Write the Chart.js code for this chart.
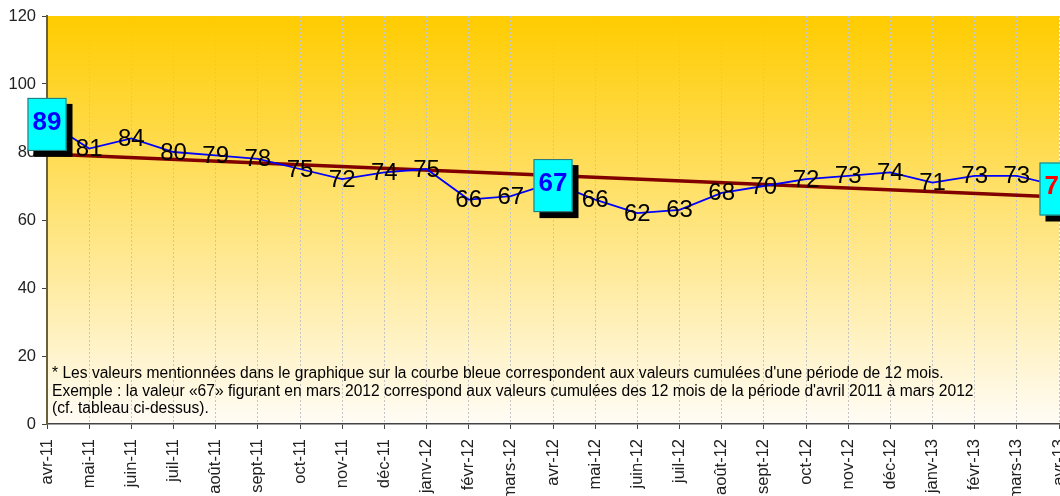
<!DOCTYPE html>
<html>
<head>
<meta charset="utf-8">
<script src="https://cdn.jsdelivr.net/npm/chart.js@4/dist/chart.umd.min.js"></script>
<style>
body{margin:0;background:#fff;}
#wrap{width:1060px;height:496px;overflow:hidden;position:relative;}
</style>
</head>
<body>
<div id="wrap"><canvas id="myChart" width="1100" height="496"></canvas></div>
<script>
var months = ["avr-11","mai-11","juin-11","juil-11","août-11","sept-11","oct-11","nov-11","déc-11","janv-12","févr-12","mars-12",
              "avr-12","mai-12","juin-12","juil-12","août-12","sept-12","oct-12","nov-12","déc-12","janv-13","févr-13","mars-13","avr-13"];
var values = [89,81,84,80,79,78,75,72,74,75,66,67,71,66,62,63,68,70,72,73,74,71,73,73,70];
// points shown in a box instead of a plain label
var boxIndex = [0,12,24];
var boxText = ["89","67","70"];
var boxColor = ["#0000ff","#0000ff","#ff0000"];
// trend line ends
var trendStart = 79.4;
var trendEnd = 66.8;
var yTicks = [0,20,40,60,80,100,120];
var note = ["* Les valeurs mentionnées dans le graphique sur la courbe bleue correspondent aux valeurs cumulées d'une période de 12 mois.",
            "Exemple : la valeur «67» figurant en mars 2012 correspond aux valeurs cumulées des 12 mois de la période d'avril 2011 à mars 2012",
            "(cf. tableau ci-dessus)."];

var bgPlugin = {
  id:'bg',
  beforeDraw:function(chart){
    var a = chart.chartArea, ctx = chart.ctx;
    var g = ctx.createLinearGradient(0,a.top,0,a.bottom);
    g.addColorStop(0,'#ffcc00');
    g.addColorStop(1,'#fffcf6');
    ctx.save();
    ctx.fillStyle = g;
    ctx.fillRect(a.left,a.top,a.right-a.left,a.bottom-a.top);
    ctx.restore();
  }
};

var labelPlugin = {
  id:'labels',
  afterDatasetsDraw:function(chart){
    var ctx = chart.ctx, a = chart.chartArea;
    var meta = chart.getDatasetMeta(0);
    ctx.save();
    // footnote
    ctx.font = '15.6px "Liberation Sans", Arial, sans-serif';
    ctx.fillStyle = '#000';
    ctx.textAlign = 'left';
    ctx.textBaseline = 'alphabetic';
    for(var n=0;n<note.length;n++){
      ctx.fillText(note[n], a.left+5, 378+n*17.5);
    }
    // values
    ctx.font = '24px "Liberation Sans", Arial, sans-serif';
    ctx.textAlign = 'center';
    ctx.textBaseline = 'middle';
    for(var i=0;i<values.length;i++){
      if(boxIndex.indexOf(i)>=0) continue;
      var p = meta.data[i];
      ctx.fillText(String(values[i]), p.x, p.y+1);
    }
    // boxes
    for(var k=0;k<boxIndex.length;k++){
      var q = meta.data[boxIndex[k]];
      var w = 39, h = 53;
      var bx = q.x-w/2, by = q.y-h/2+3;
      ctx.fillStyle = '#000';
      ctx.fillRect(bx+6,by+6,w,h);
      ctx.fillStyle = '#00ffff';
      ctx.fillRect(bx,by,w,h);
      ctx.strokeStyle = '#2f6f6f';
      ctx.lineWidth = 1;
      ctx.strokeRect(bx+0.5,by+0.5,w-1,h-1);
      ctx.fillStyle = boxColor[k];
      ctx.font = 'bold 26px "Liberation Sans", Arial, sans-serif';
      ctx.fillText(boxText[k], q.x, q.y+1);
    }
    ctx.restore();
  }
};

var ctx = document.getElementById("myChart");
var myChart = new Chart(ctx, {
  type:'line',
  data:{
    labels:months,
    datasets:[{
      label:'valeurs',
      data:values,
      borderColor:'#0000ff',
      borderWidth:1.8,
      pointRadius:0,
      tension:0,
      order:1
    },{
      label:'tendance',
      data:[{x:months[0],y:trendStart},{x:months[months.length-1],y:trendEnd}],
      borderColor:'#800000',
      borderWidth:3.5,
      pointRadius:0,
      order:2
    }]
  },
  options:{
    responsive:false,
    animation:false,
    devicePixelRatio:1,
    layout:{padding:{left:0,right:41,top:16,bottom:0}},
    plugins:{legend:{display:false},tooltip:{enabled:false}},
    scales:{
      x:{
        offset:false,
        grid:{color:'#c4c4c4',lineWidth:1,drawTicks:true,tickLength:5,tickColor:'#444',tickWidth:1},
        border:{display:true,color:'#444',width:1.5,dash:[2,2]},
        ticks:{autoSkip:false,minRotation:90,maxRotation:90,color:'#222',padding:10,
               font:{family:'"Liberation Sans", Arial, sans-serif',size:16.5}},
        afterFit:function(s){ s.height = 72; }
      },
      y:{
        min:0,max:120,
        afterBuildTicks:function(s){ s.ticks = yTicks.map(function(v){return {value:v};}); },
        grid:{drawOnChartArea:false,drawTicks:true,tickLength:5,tickColor:'#444'},
        border:{display:true,color:'#6b5f3c',width:2},
        ticks:{color:'#222',padding:6,font:{family:'"Liberation Sans", Arial, sans-serif',size:16.5}},
        afterFit:function(s){ s.width = 47; }
      }
    }
  },
  plugins:[bgPlugin,labelPlugin]
});
</script>
</body>
</html>
